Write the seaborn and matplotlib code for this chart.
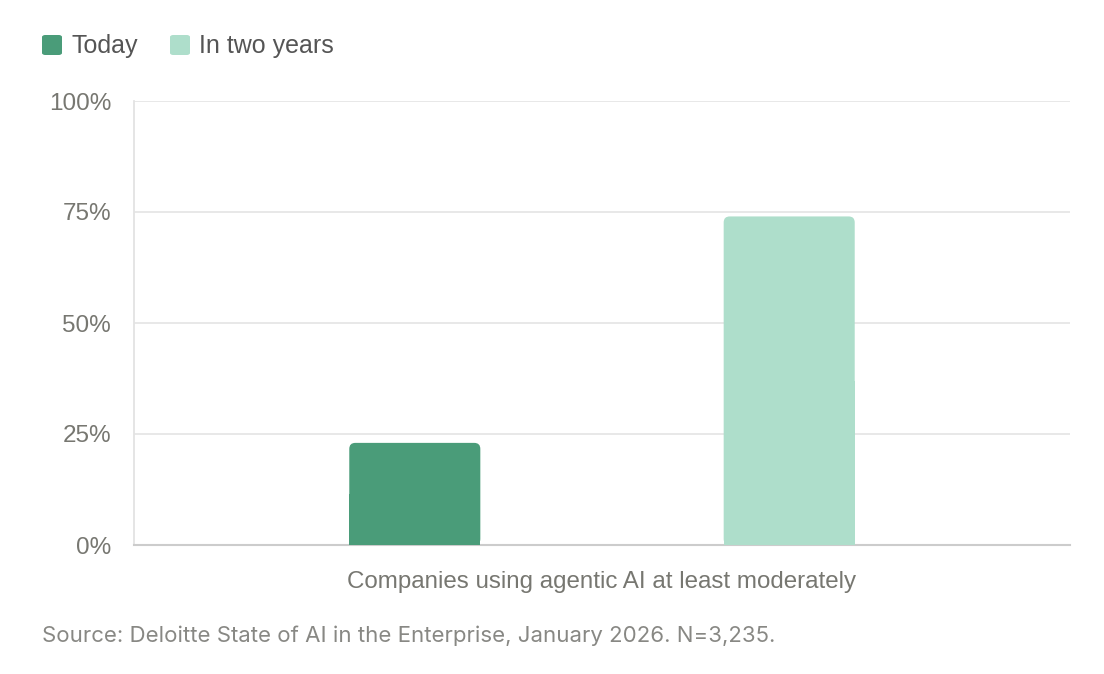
import matplotlib
matplotlib.use("Agg")
import matplotlib.pyplot as plt
from matplotlib.patches import FancyBboxPatch, Rectangle
from matplotlib.ticker import FuncFormatter
import pandas as pd
import seaborn as sns

# Datos
category = ["Companies using agentic AI at least moderately"]
series = ["Today", "In two years"]
values = [23, 74]
colors = ["#4a9c79", "#aedecb"]
yticks = [0, 25, 50, 75, 100]
source = "Source: Deloitte State of AI in the Enterprise, January 2026. N=3,235."

df = pd.DataFrame({
    "category": category * len(series),
    "series": series,
    "value": values,
})

sns.set_style("white")
plt.rcParams["font.family"] = ["Liberation Sans", "DejaVu Sans"]

fig = plt.figure(figsize=(11.04, 6.74), dpi=100)
ax = fig.add_axes([134 / 1104, 129 / 674, 936 / 1104, 444 / 674])

sns.barplot(data=df, x="category", y="value", hue="series", palette=colors,
            hue_order=series, gap=0.65, width=0.8, ax=ax, legend=False)

# Redondear las esquinas superiores de las barras
rad_px = 6
xpx = 936 / (ax.get_xlim()[1] - ax.get_xlim()[0])
for p, c in zip(ax.patches, colors):
    x, w, h = p.get_x(), p.get_width(), p.get_height()
    p.set_visible(False)
    r = rad_px / xpx
    aspect = xpx / 4.44
    ax.add_patch(FancyBboxPatch((x, 0), w, h,
                                boxstyle=f"round,pad=0,rounding_size={r}",
                                mutation_aspect=aspect, fc=c, ec="none", zorder=3))
    ax.add_patch(Rectangle((x, 0), w, h / 2, fc=c, ec="none", lw=0, zorder=3))

ax.set_xlim(-0.5, 0.5)
ax.set_ylim(0, 100)
ax.set_yticks(yticks)
ax.yaxis.set_major_formatter(FuncFormatter(lambda v, _: f"{v:.0f}%"))
ax.grid(axis="y", color="#e6e6e6", linewidth=1.3, zorder=0)
ax.set_axisbelow(True)
ax.tick_params(axis="y", length=11.5, width=1.3, color="#e6e6e6", pad=5,
               labelsize=17.5, labelcolor="#777771")
ax.tick_params(axis="x", length=0, pad=19, labelsize=17.4, labelcolor="#777771")
ax.set_xlabel("")
ax.set_ylabel("")
for s in ["top", "right"]:
    ax.spines[s].set_visible(False)
ax.spines["left"].set_color("#e3e3e3")
ax.spines["left"].set_linewidth(1.3)
ax.spines["bottom"].set_color("#cccccc")
ax.spines["bottom"].set_linewidth(1.5)

# Leyenda manual arriba
for name, c, tx in zip(series, colors, [42, 170]):
    fig.patches.append(FancyBboxPatch((tx / 1104, 1 - 55 / 674), 20 / 1104, 20 / 674,
                                      boxstyle="round,pad=0,rounding_size=0.003",
                                      transform=fig.transFigure, fc=c, ec="none"))
    fig.text((tx + 29) / 1104, 1 - 46 / 674, name, fontsize=18, color="#555555",
             va="center", ha="left")

fig.text(42 / 1104, 1 - 636 / 674, source, fontsize=16, color="#888884",
         va="center", ha="left", family=["Inter", "DejaVu Sans"])

fig.savefig("out.png", dpi=100, facecolor="white")
